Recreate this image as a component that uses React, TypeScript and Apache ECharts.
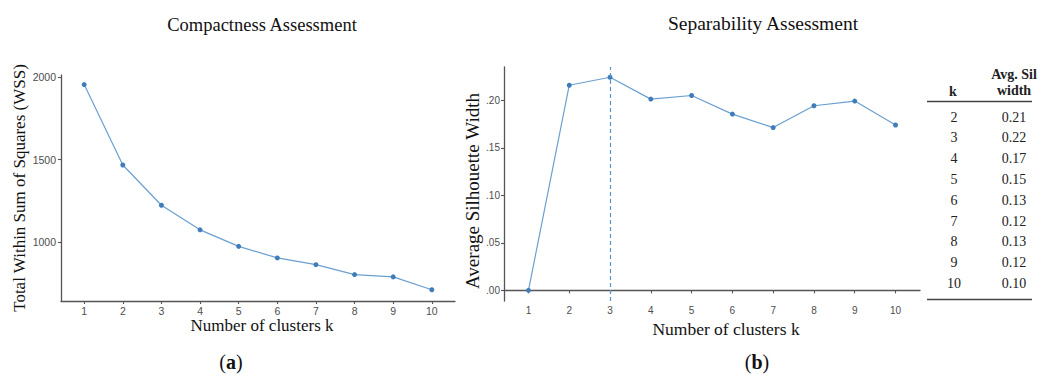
import React, { useEffect, useRef } from "react";
import * as echarts from "echarts";

const kValues = [1, 2, 3, 4, 5, 6, 7, 8, 9, 10];
const wss = [1954, 1467, 1223, 1074, 974, 904, 863, 803, 789, 711];
const silhouette = [0.0, 0.216, 0.2244, 0.2014, 0.2052, 0.1856, 0.1714, 0.1944, 0.1993, 0.1741];
const wssTicks = [1000, 1500, 2000];
const silTicks = [0, 0.05, 0.1, 0.15, 0.2];
const optimalK = 3;
const tableK = [2, 3, 4, 5, 6, 7, 8, 9, 10];
const tableSil = [0.21, 0.22, 0.17, 0.15, 0.13, 0.12, 0.13, 0.12, 0.1];

const SERIF = "'Liberation Serif', 'Times New Roman', serif";
const SANS = "'Liberation Sans', Arial, sans-serif";
const AXIS_COLOR = "#555";
const LABEL_COLOR = "#4d4d4d";
const POINT_COLOR = "#3f7cb9";
const LINE_COLOR = "#6a9fd1";

export default function App() {
  const ref = useRef<HTMLDivElement>(null);

  useEffect(() => {
    if (!ref.current) return;
    const chart = echarts.init(ref.current, undefined, { renderer: "svg" });

    const axisLine = { show: true, lineStyle: { color: AXIS_COLOR, width: 1.3 } };
    const tickStyle = { color: AXIS_COLOR, width: 1.1 };

    const xAxisCommon = (gridIndex: number, fontSize: number) => ({
      gridIndex,
      type: "value",
      min: 0.4,
      max: 10.6,
      axisLine,
      axisTick: { show: true, customValues: kValues, length: 3, lineStyle: tickStyle },
      axisLabel: {
        customValues: kValues,
        color: LABEL_COLOR,
        fontSize,
        fontFamily: SANS,
        margin: 4,
        formatter: (v: number) => String(v),
      },
      splitLine: { show: false },
    });

    const tableTexts: any[] = [];
    tableK.forEach((k, i) => {
      const y = 117 + i * 20.8;
      tableTexts.push({
        type: "text",
        x: 954,
        y,
        style: { text: String(k), font: `14px ${SERIF}`, fill: "#222", align: "center", verticalAlign: "middle" },
      });
      tableTexts.push({
        type: "text",
        x: 1014,
        y,
        style: { text: tableSil[i].toFixed(2), font: `14px ${SERIF}`, fill: "#222", align: "center", verticalAlign: "middle" },
      });
    });

    const subLabel = (x: number, letter: string) => ({
      type: "text",
      x,
      y: 362,
      style: {
        text: `({b|${letter}})`,
        font: `20px ${SERIF}`,
        fill: "#111",
        align: "center",
        verticalAlign: "middle",
        rich: { b: { fontWeight: "bold", fontSize: 20, fontFamily: SERIF, fill: "#111" } },
      },
    });

    chart.setOption({
      animation: false,
      grid: [
        { left: 61, top: 75, width: 394, height: 226 },
        { left: 504, top: 67, width: 416, height: 234 },
      ],
      xAxis: [xAxisCommon(0, 10.5), xAxisCommon(1, 10)],
      yAxis: [
        {
          gridIndex: 0,
          type: "value",
          min: 643,
          max: 2012,
          axisLine,
          axisTick: { show: true, customValues: wssTicks, length: 3, lineStyle: tickStyle },
          axisLabel: {
            customValues: wssTicks,
            color: LABEL_COLOR,
            fontSize: 10.5,
            fontFamily: SANS,
            margin: 5,
            formatter: (v: number) => String(Math.round(v)),
          },
          splitLine: { show: false },
        },
        {
          gridIndex: 1,
          type: "value",
          min: -0.0112,
          max: 0.2352,
          axisLine,
          axisTick: { show: true, customValues: silTicks, length: 3, lineStyle: tickStyle },
          axisLabel: {
            customValues: silTicks,
            color: LABEL_COLOR,
            fontSize: 10,
            fontFamily: SANS,
            margin: 4,
            formatter: (v: number) => v.toFixed(2).replace(/^0/, ""),
          },
          splitLine: { show: false },
        },
      ],
      series: [
        {
          type: "line",
          xAxisIndex: 0,
          yAxisIndex: 0,
          data: kValues.map((k, i) => [k, wss[i]]),
          symbol: "circle",
          symbolSize: 5,
          lineStyle: { color: LINE_COLOR, width: 1.2 },
          itemStyle: { color: POINT_COLOR },
        },
        {
          type: "line",
          xAxisIndex: 1,
          yAxisIndex: 1,
          data: kValues.map((k, i) => [k, silhouette[i]]),
          symbol: "circle",
          symbolSize: 5,
          lineStyle: { color: LINE_COLOR, width: 1.2 },
          itemStyle: { color: POINT_COLOR },
          markLine: {
            silent: true,
            symbol: ["none", "none"],
            label: { show: false },
            lineStyle: { color: "#5b93c9", type: [4, 3], width: 1.2 },
            data: [{ xAxis: optimalK }],
          },
        },
      ],
      graphic: [
        {
          type: "text",
          x: 262,
          y: 24.5,
          style: { text: "Compactness Assessment", font: `18.5px ${SERIF}`, fill: "#111", align: "center", verticalAlign: "middle" },
        },
        {
          type: "text",
          x: 763,
          y: 23,
          style: { text: "Separability Assessment", font: `19.5px ${SERIF}`, fill: "#111", align: "center", verticalAlign: "middle" },
        },
        {
          type: "text",
          x: 262,
          y: 325.5,
          style: { text: "Number of clusters k", font: `17px ${SERIF}`, fill: "#111", align: "center", verticalAlign: "middle" },
        },
        {
          type: "text",
          x: 726,
          y: 328.5,
          style: { text: "Number of clusters k", font: `17.5px ${SERIF}`, fill: "#111", align: "center", verticalAlign: "middle" },
        },
        {
          type: "text",
          x: 19,
          y: 188,
          rotation: Math.PI / 2,
          style: { text: "Total Within Sum of Squares (WSS)", font: `17px ${SERIF}`, fill: "#111", align: "center", verticalAlign: "middle" },
        },
        {
          type: "text",
          x: 472,
          y: 191,
          rotation: Math.PI / 2,
          style: { text: "Average Silhouette Width", font: `19px ${SERIF}`, fill: "#111", align: "center", verticalAlign: "middle" },
        },
        subLabel(231, "a"),
        subLabel(757, "b"),
        {
          type: "text",
          x: 1014,
          y: 74,
          style: { text: "Avg. Sil", font: `bold 14px ${SERIF}`, fill: "#222", align: "center", verticalAlign: "middle" },
        },
        {
          type: "text",
          x: 1014,
          y: 90.5,
          style: { text: "width", font: `bold 14px ${SERIF}`, fill: "#222", align: "center", verticalAlign: "middle" },
        },
        {
          type: "text",
          x: 953,
          y: 91.5,
          style: { text: "k", font: `bold 14px ${SERIF}`, fill: "#222", align: "center", verticalAlign: "middle" },
        },
        {
          type: "line",
          shape: { x1: 927, y1: 101.5, x2: 1032, y2: 101.5 },
          style: { stroke: "#444", lineWidth: 1.5 },
        },
        {
          type: "line",
          shape: { x1: 927, y1: 299.5, x2: 1032, y2: 299.5 },
          style: { stroke: "#444", lineWidth: 1.5 },
        },
        ...tableTexts,
      ],
    });

    return () => chart.dispose();
  }, []);

  return (
    <div
      ref={ref}
      style={{ position: "fixed", left: 0, top: 0, width: 1043, height: 378, background: "#fff" }}
    />
  );
}
